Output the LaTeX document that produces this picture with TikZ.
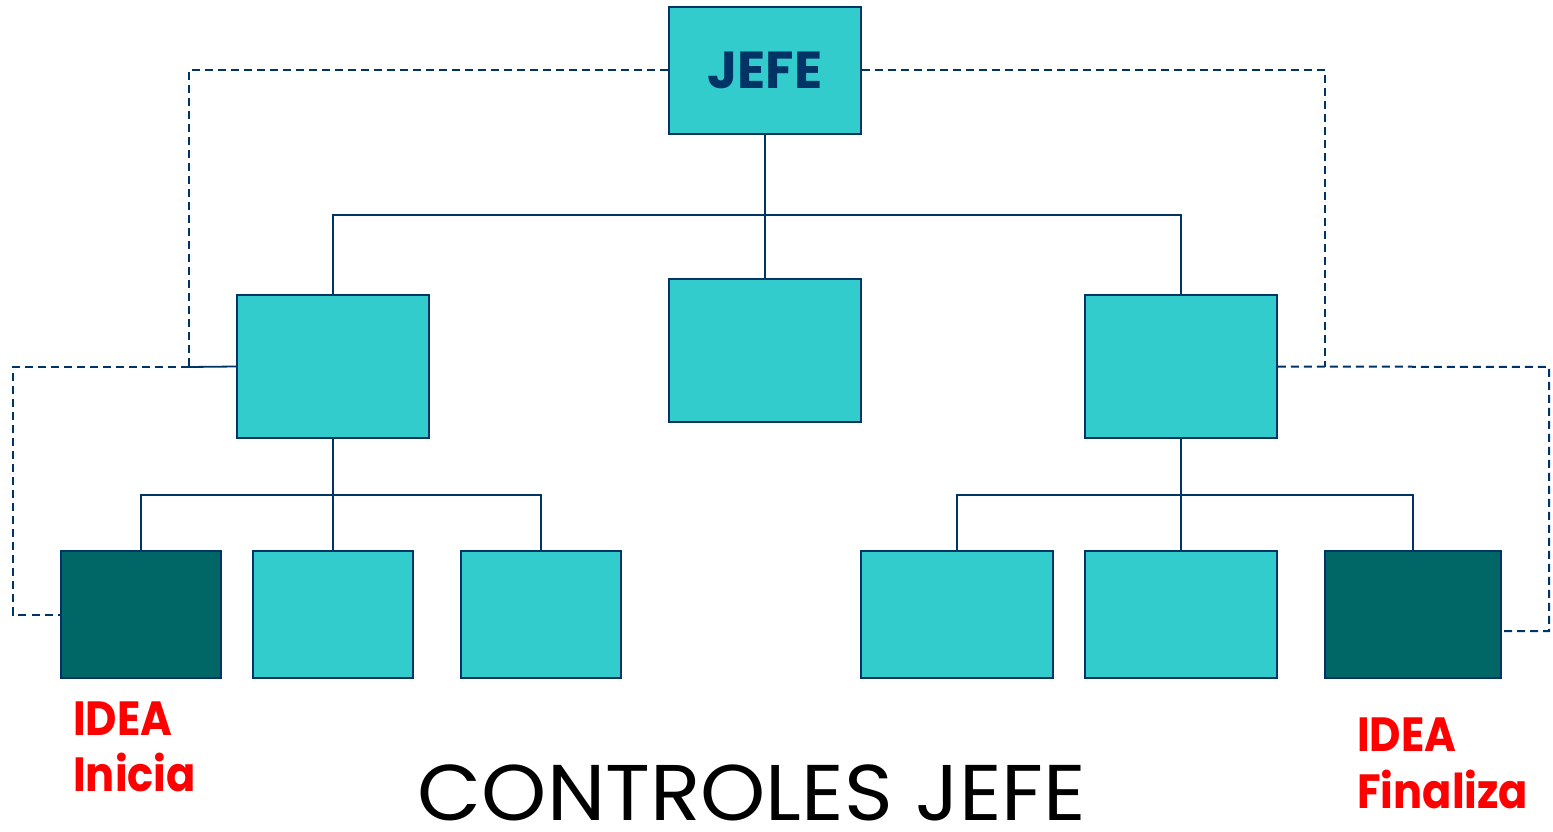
\documentclass[tikz,border=0pt]{standalone}
\usepackage{fontspec}
\setmainfont{Poppins}
\usetikzlibrary{calc}
\definecolor{boxfill}{HTML}{33CCCC}
\definecolor{darkfill}{HTML}{006666}
\definecolor{navy}{HTML}{003366}
\definecolor{ideared}{HTML}{FF0000}
\tikzset{
  box/.style={rectangle, draw=navy, fill=boxfill, line width=1.8pt, inner sep=0pt, minimum width=#1},
  box/.default=192pt,
  darkbox/.style={box=#1, fill=darkfill},
  link/.style={draw=navy, line width=1.8pt},
  dlink/.style={draw=navy, line width=2pt, dash pattern=on 8pt off 5pt},
  idea/.style={text=ideared, font=\fontsize{48}{56}\selectfont\bfseries, inner sep=0pt, text depth=0pt, anchor=base west},
}
\newcommand{\sq}[1]{\scalebox{0.9}[1]{#1}}
\begin{document}
\begin{tikzpicture}[x=1pt,y=-1pt]
\useasboundingbox (0,0) rectangle (1553,832);
% boxes
\node[box, minimum height=127pt] (jefe) at (765,70.5) {\fontsize{52}{52}\selectfont\bfseries\color{navy}JEFE};
\node[box, minimum height=143pt] (lm) at (333,366.5) {};
\node[box, minimum height=143pt] (cm) at (765,350.5) {};
\node[box, minimum height=143pt] (rm) at (1181,366.5) {};
\node[darkbox=160pt, minimum height=127pt] (b1) at (141,614.5) {};
\node[box=160pt, minimum height=127pt] (b2) at (333,614.5) {};
\node[box=160pt, minimum height=127pt] (b3) at (541,614.5) {};
\node[box=192pt, minimum height=127pt] (b4) at (957,614.5) {};
\node[box=192pt, minimum height=127pt] (b5) at (1181,614.5) {};
\node[darkbox=176pt, minimum height=127pt] (b6) at (1413,614.5) {};
% bus coordinates
\coordinate (bus1) at (765,215);
\coordinate (bus2) at (333,495);
\coordinate (bus3) at (1181,495);
% solid connectors
\draw[link] (jefe.south) -- (bus1);
\draw[link] (bus1) -| (lm.north);
\draw[link] (bus1) -| (rm.north);
\draw[link] (bus1) -- (cm.north);
\draw[link] (lm.south) -- (bus2);
\draw[link] (bus2) -| (b1.north);
\draw[link] (bus2) -| (b3.north);
\draw[link] (bus2) -- (b2.north);
\draw[link] (rm.south) -- (bus3);
\draw[link] (bus3) -| (b4.north);
\draw[link] (bus3) -| (b6.north);
\draw[link] (bus3) -- (b5.north);
% dashed control lines
\coordinate (lk) at (189,367);
\coordinate (lo) at (13,367);
\coordinate (rk) at (1325,367);
\coordinate (ro) at (1549,367);
\coordinate (re) at (1501,631);
\draw[dlink] (jefe.west) -| (lk);
\draw[link] (lk) -- (lm.west);
\draw[dlink] (lk) -- (lo) |- (b1.west);
\draw[dlink] (jefe.east) -| (rk);
\draw[dlink] (rm.east) -- (ro) |- (re);
% labels
\node[idea] (i1) at (73,735) {\sq{IDEA}};
\node[idea] (i2) at (73,791) {\sq{Inicia}};
\node[idea] (f1) at (1357,751) {\sq{IDEA}};
\node[idea] (f2) at (1357,808) {\sq{Finaliza}};
\node[inner sep=0pt, text depth=0pt, anchor=base, font=\fontsize{79}{79}\selectfont] (title) at (752,820) {\scalebox{1.05}[1]{CONTROLES JEFE}};
\end{tikzpicture}
\end{document}
